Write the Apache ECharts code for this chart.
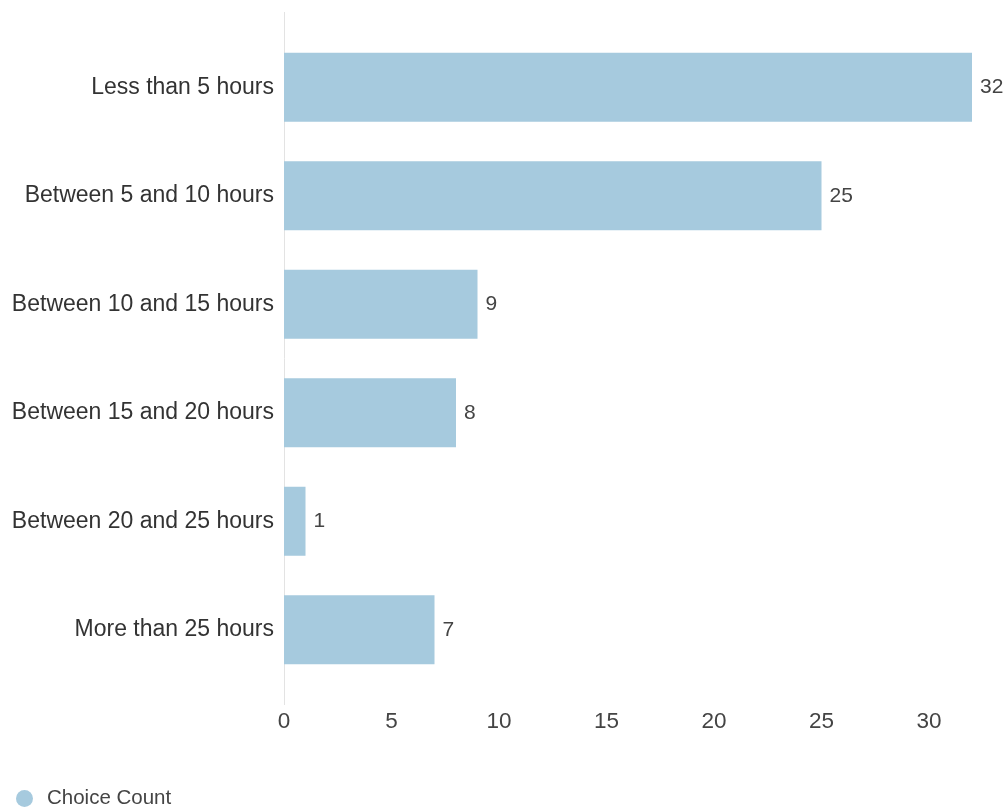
<!DOCTYPE html>
<html>
<head>
<meta charset="utf-8">
<script src="https://cdn.jsdelivr.net/npm/echarts@6/dist/echarts.min.js"></script>
<style>html,body{margin:0;padding:0;background:#fff}#c{width:1008px;height:808px}</style>
</head>
<body>
<div id="c"></div>
<script>
const categories = ["Less than 5 hours","Between 5 and 10 hours","Between 10 and 15 hours","Between 15 and 20 hours","Between 20 and 25 hours","More than 25 hours"];
const choiceCount = [32, 25, 9, 8, 1, 7];
const seriesName = "Choice Count";

const FF = "'Liberation Sans', Arial, sans-serif";
const chart = echarts.init(document.getElementById('c'), null, {renderer: 'canvas'});
chart.setOption({
  animation: false,
  backgroundColor: '#ffffff',
  textStyle: {fontFamily: FF},
  grid: {left: 284, right: 36, top: 33, bottom: 124, containLabel: false},
  legend: {
    data: [seriesName],
    left: 11, top: 783,
    icon: 'circle', itemWidth: 35, itemHeight: 17,
    textStyle: {fontSize: 20.5, color: '#444', fontFamily: FF}
  },
  xAxis: {
    type: 'value', min: 0, max: 32, interval: 5,
    axisLine: {show: false}, axisTick: {show: false}, splitLine: {show: false},
    axisLabel: {fontSize: 22.5, color: '#444', margin: 26, showMaxLabel: false, fontFamily: FF}
  },
  yAxis: {
    type: 'category', data: categories, inverse: true,
    axisLine: {show: false}, axisTick: {show: false},
    axisLabel: {fontSize: 23, color: '#333', margin: 10, fontFamily: FF}
  },
  graphic: [{
    type: 'line', shape: {x1: 284.5, y1: 12, x2: 284.5, y2: 705},
    style: {stroke: '#e3e3e3', lineWidth: 1}, silent: true
  }],
  series: [{
    name: seriesName, type: 'bar', data: choiceCount,
    barWidth: 69,
    itemStyle: {color: '#a6cade'},
    label: {show: true, position: 'right', distance: 8, fontSize: 21, color: '#444', fontFamily: FF}
  }]
});
</script>
</body>
</html>
